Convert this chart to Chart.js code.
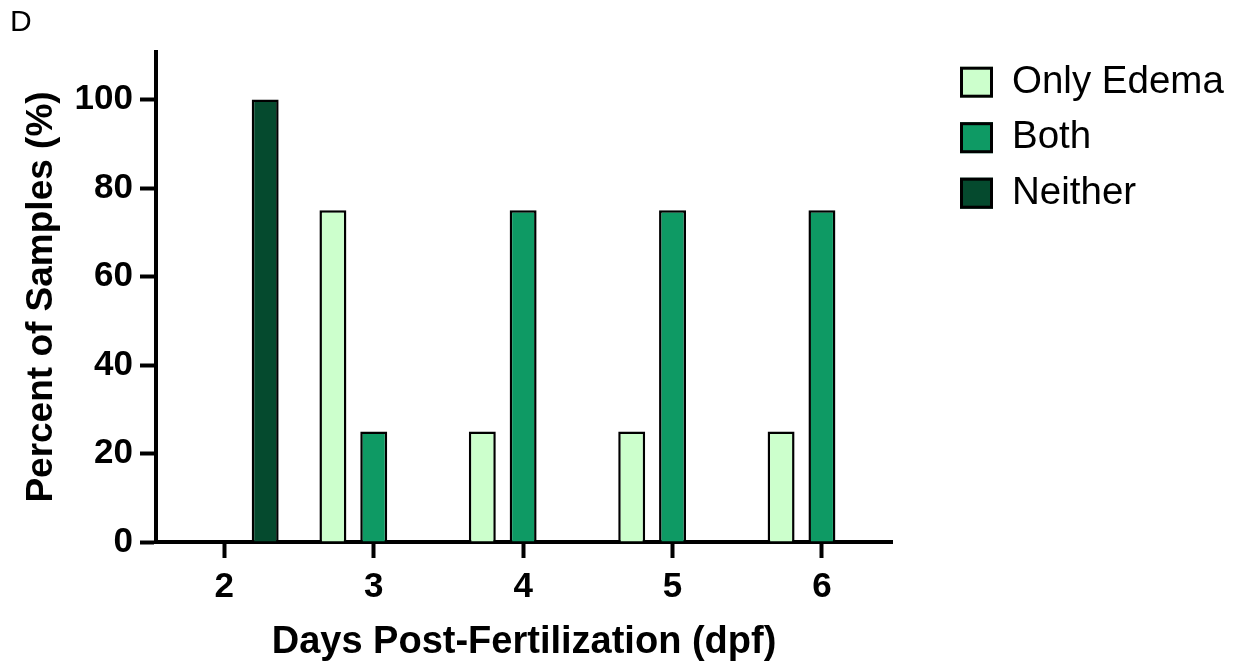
<!DOCTYPE html>
<html>
<head>
<meta charset="utf-8">
<script src="https://cdn.jsdelivr.net/npm/chart.js@4.4.1/dist/chart.umd.min.js"></script>
<style>
  html, body { margin: 0; padding: 0; background: #ffffff; }
  #wrap { width: 1234px; height: 662px; position: relative; }
</style>
</head>
<body>
<div id="wrap"><canvas id="c"></canvas></div>
<script>
// ---- data ----
const categories = [2, 3, 4, 5, 6];
const onlyEdema = [0, 75, 25, 25, 25];
const both = [0, 25, 75, 75, 75];
const neither = [100, 0, 0, 0, 0];
const yTicks = [0, 20, 40, 60, 80, 100];
const seriesNames = ['Only Edema', 'Both', 'Neither'];
const seriesColors = ['#ccffcc', '#0e9a64', '#054a2e'];
const panelLabel = 'D';
const xTitle = 'Days Post-Fertilization (dpf)';
const yTitle = 'Percent of Samples (%)';

const FONT = "'Liberation Sans', Arial, Helvetica, sans-serif";
const seriesValues = [onlyEdema, both, neither];

const datasets = seriesNames.map((name, s) => ({
  label: name,
  data: categories.map((c, i) => ({ x: c, y: seriesValues[s][i] })),
  backgroundColor: seriesColors[s],
  borderColor: '#000000',
  borderWidth: 2.5,
  borderSkipped: 'start',
  inflateAmount: 0,
  categoryPercentage: 0.82,
  barPercentage: 0.66
}));

const legendPlugin = {
  id: 'sideLegend',
  afterDraw(chart) {
    const ctx = chart.ctx;
    ctx.save();
    chart.data.datasets.forEach((ds, i) => {
      const cy = 82.2 + i * 55.5;
      const bx = 960, bw = 33, bh = 31;
      const by = cy - bh / 2;
      const lw = 3;
      ctx.fillStyle = ds.backgroundColor;
      ctx.fillRect(bx, by, bw, bh);
      ctx.lineWidth = lw;
      ctx.strokeStyle = '#000000';
      ctx.strokeRect(bx + lw / 2, by + lw / 2, bw - lw, bh - lw);
      ctx.fillStyle = '#000000';
      ctx.font = '38.5px ' + FONT;
      ctx.textAlign = 'left';
      ctx.textBaseline = 'middle';
      ctx.fillText(ds.label, 1012, cy);
    });
    ctx.restore();
  }
};

new Chart(document.getElementById('c'), {
  type: 'bar',
  data: { datasets },
  options: {
    responsive: true,
    maintainAspectRatio: false,
    animation: false,
    devicePixelRatio: 1,
    layout: { padding: { left: 10, right: 342, top: 0, bottom: 0 } },
    plugins: {
      legend: { display: false },
      tooltip: { enabled: false },
      title: {
        display: true,
        text: panelLabel,
        align: 'start',
        color: '#000000',
        font: { family: FONT, size: 30, weight: 'normal', lineHeight: 1.2 },
        padding: { top: 5, bottom: 11 }
      }
    },
    scales: {
      x: {
        type: 'linear',
        min: 1.5425,
        max: 6.469,
        offset: false,
        z: 1,
        afterBuildTicks: (s) => { s.ticks = categories.map(v => ({ value: v })); },
        afterFit: (s) => { s.height = 120; },
        grid: {
          display: true, offset: false, drawOnChartArea: false, drawTicks: true,
          tickLength: 16, tickWidth: 4, tickColor: '#000000'
        },
        border: { display: true, color: '#000000', width: 4 },
        ticks: {
          color: '#000000', padding: 8, maxRotation: 0, autoSkip: false,
          font: { family: FONT, size: 35, weight: 'bold' },
          callback: (v) => String(v)
        },
        title: {
          display: true, text: xTitle, color: '#000000',
          font: { family: FONT, size: 38, weight: 'bold', lineHeight: 1 },
          padding: { top: 0, bottom: 0 }
        }
      },
      y: {
        min: 0,
        max: 110.75,
        z: 1,
        afterBuildTicks: (s) => { s.ticks = yTicks.map(v => ({ value: v })); },
        afterFit: (s) => { s.width = 146; },
        grid: {
          display: true, drawOnChartArea: false, drawTicks: true,
          tickLength: 16, tickWidth: 4, tickColor: '#000000'
        },
        border: { display: true, color: '#000000', width: 4 },
        ticks: {
          color: '#000000', padding: 7,
          font: { family: FONT, size: 35, weight: 'bold' }
        },
        title: {
          display: true, text: yTitle, color: '#000000',
          font: { family: FONT, size: 37, weight: 'bold', lineHeight: 1.2 },
          padding: { top: 10, bottom: 0 }
        }
      }
    }
  },
  plugins: [legendPlugin]
});
</script>
</body>
</html>
